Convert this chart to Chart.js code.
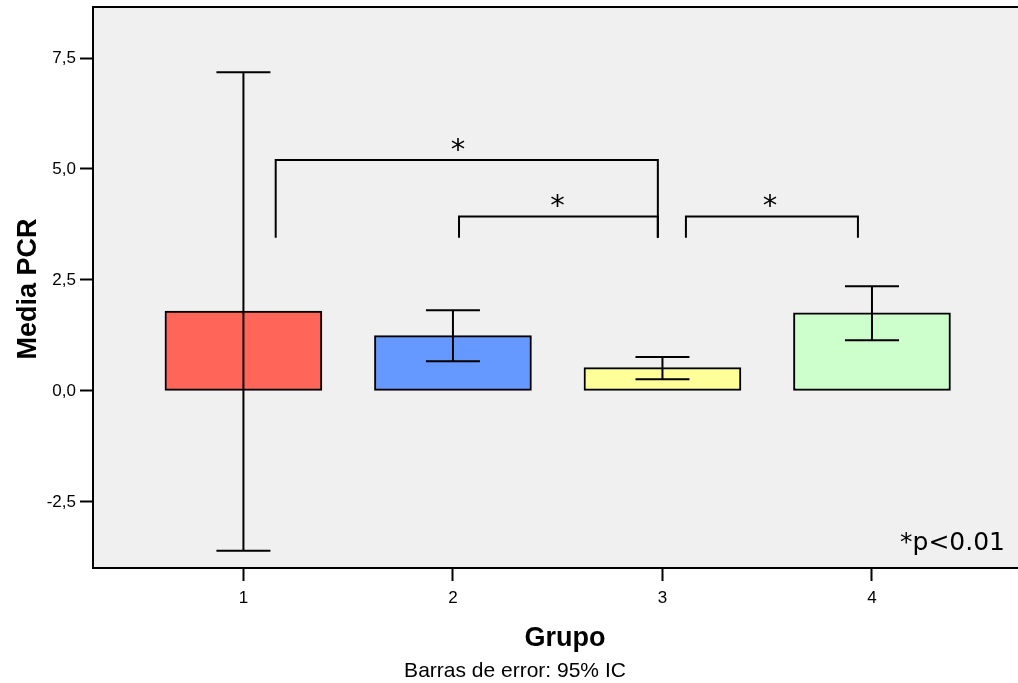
<!DOCTYPE html>
<html>
<head>
<meta charset="utf-8">
<script src="https://cdn.jsdelivr.net/npm/chart.js@4/dist/chart.umd.min.js"></script>
<style>
  html, body { margin: 0; padding: 0; background: #fff; }
  #wrap { width: 1018px; height: 683px; }
</style>
</head>
<body>
<div id="wrap"><canvas id="c" width="1018" height="683"></canvas></div>
<script>
// ---- data ----
const categories = [1, 2, 3, 4];
const means = [1.80, 1.245, 0.525, 1.76];
const ciLow = [-3.60, 0.67, 0.26, 1.14];
const ciHigh = [7.18, 1.82, 0.765, 2.36];
const barColors = ['#ff6659', '#6699ff', '#ffff99', '#ccffcc'];
const yTicks = [-2.5, 0, 2.5, 5, 7.5];
const xTicks = [1, 2, 3, 4];
// significance brackets
const bracketFrom = [1.154, 2.029, 3.112];
const bracketTo = [2.978, 2.978, 3.933];
const bracketTop = [5.20, 3.93, 3.93];
const bracketBase = [3.45, 3.45, 3.45];
const starX = [2.024, 2.499, 3.513];
const starY = [5.585, 4.32, 4.32];
const starLabel = ['*', '*', '*'];

const yTitle = 'Media PCR';
const xTitle = 'Grupo';
const footnote = 'Barras de error: 95% IC';
const sigNote = '*p<0.01';

const overlay = {
  id: 'overlay',
  beforeDraw(chart) {
    const a = chart.chartArea, ctx = chart.ctx;
    ctx.save();
    ctx.fillStyle = '#f0f0f0';
    ctx.fillRect(a.left, a.top, a.right - a.left, a.bottom - a.top);
    ctx.restore();
  },
  afterDatasetsDraw(chart) {
    const ctx = chart.ctx, xs = chart.scales.x, ys = chart.scales.y;
    ctx.save();
    ctx.strokeStyle = '#000';
    ctx.lineWidth = 2;
    // error bars
    const cap = 27;
    categories.forEach((c, i) => {
      const px = xs.getPixelForValue(c);
      const yl = ys.getPixelForValue(ciLow[i]);
      const yh = ys.getPixelForValue(ciHigh[i]);
      ctx.beginPath();
      ctx.moveTo(px, yl); ctx.lineTo(px, yh);
      ctx.moveTo(px - cap, yl); ctx.lineTo(px + cap, yl);
      ctx.moveTo(px - cap, yh); ctx.lineTo(px + cap, yh);
      ctx.stroke();
    });
    // brackets
    bracketFrom.forEach((f, i) => {
      const x1 = xs.getPixelForValue(f), x2 = xs.getPixelForValue(bracketTo[i]);
      const yt = ys.getPixelForValue(bracketTop[i]), yb = ys.getPixelForValue(bracketBase[i]);
      ctx.beginPath();
      ctx.moveTo(x1, yb); ctx.lineTo(x1, yt); ctx.lineTo(x2, yt); ctx.lineTo(x2, yb);
      ctx.stroke();
    });
    ctx.fillStyle = '#000';
    ctx.font = '29px "DejaVu Sans"';
    ctx.textAlign = 'center';
    ctx.textBaseline = 'alphabetic';
    starX.forEach((sx, i) => {
      ctx.fillText(starLabel[i], xs.getPixelForValue(sx), ys.getPixelForValue(starY[i]) + 16);
    });
    ctx.restore();
  },
  afterDraw(chart) {
    const a = chart.chartArea, ctx = chart.ctx;
    ctx.save();
    ctx.strokeStyle = '#000';
    ctx.lineWidth = 2;
    ctx.beginPath();
    ctx.moveTo(a.left - 1, a.top); ctx.lineTo(a.right, a.top);
    ctx.stroke();
    ctx.fillStyle = '#000';
    ctx.textBaseline = 'alphabetic';
    // sig note
    ctx.font = '25px "DejaVu Sans"';
    ctx.textAlign = 'right';
    ctx.fillText(sigNote, 1005, 550);
    // x title
    ctx.font = 'bold 27px "Liberation Sans", Arial, sans-serif';
    ctx.textAlign = 'center';
    ctx.fillText(xTitle, 565, 646);
    // footnote
    ctx.font = '21px "Liberation Sans", Arial, sans-serif';
    ctx.fillText(footnote, 515, 677);
    // y title
    ctx.translate(36, 289);
    ctx.rotate(-Math.PI / 2);
    ctx.font = 'bold 27px "Liberation Sans", Arial, sans-serif';
    ctx.fillText(yTitle, 0, 0);
    ctx.restore();
  }
};

new Chart(document.getElementById('c'), {
  type: 'bar',
  data: {
    datasets: [{
      data: categories.map((c, i) => ({ x: c, y: means[i] })),
      backgroundColor: barColors,
      borderColor: '#000',
      borderWidth: 2,
      borderSkipped: false,
      barThickness: 157
    }]
  },
  options: {
    responsive: false,
    animation: false,
    devicePixelRatio: 1,
    layout: { padding: { top: 7, right: 0, left: 0, bottom: 0 } },
    plugins: { legend: { display: false }, tooltip: { enabled: false } },
    scales: {
      x: {
        type: 'linear',
        offset: false,
        min: 0.282,
        max: 4.697,
        afterBuildTicks(s) { s.ticks = xTicks.map(v => ({ value: v })); },
        afterFit(s) { s.height = 115; s.paddingLeft = 0; s.paddingRight = 0; },
        border: { color: '#000', width: 2 },
        grid: { offset: false, drawOnChartArea: false, drawTicks: true, tickLength: 13, tickColor: '#000', tickWidth: 2 },
        ticks: {
          color: '#000', padding: 7,
          font: { family: '"Liberation Sans", Arial, sans-serif', size: 17 },
          callback: v => String(v), maxRotation: 0, autoSkip: false
        }
      },
      y: {
        min: -3.99,
        max: 8.65,
        afterBuildTicks(s) { s.ticks = yTicks.map(v => ({ value: v })); },
        afterFit(s) { s.width = 93; s.paddingTop = 0; s.paddingBottom = 0; },
        border: { color: '#000', width: 2 },
        grid: { drawOnChartArea: false, drawTicks: true, tickLength: 13, tickColor: '#000', tickWidth: 2 },
        ticks: {
          color: '#000', padding: 4,
          font: { family: '"Liberation Sans", Arial, sans-serif', size: 17 },
          callback: v => v.toFixed(1).replace('.', ',')
        }
      }
    }
  },
  plugins: [overlay]
});
</script>
</body>
</html>
